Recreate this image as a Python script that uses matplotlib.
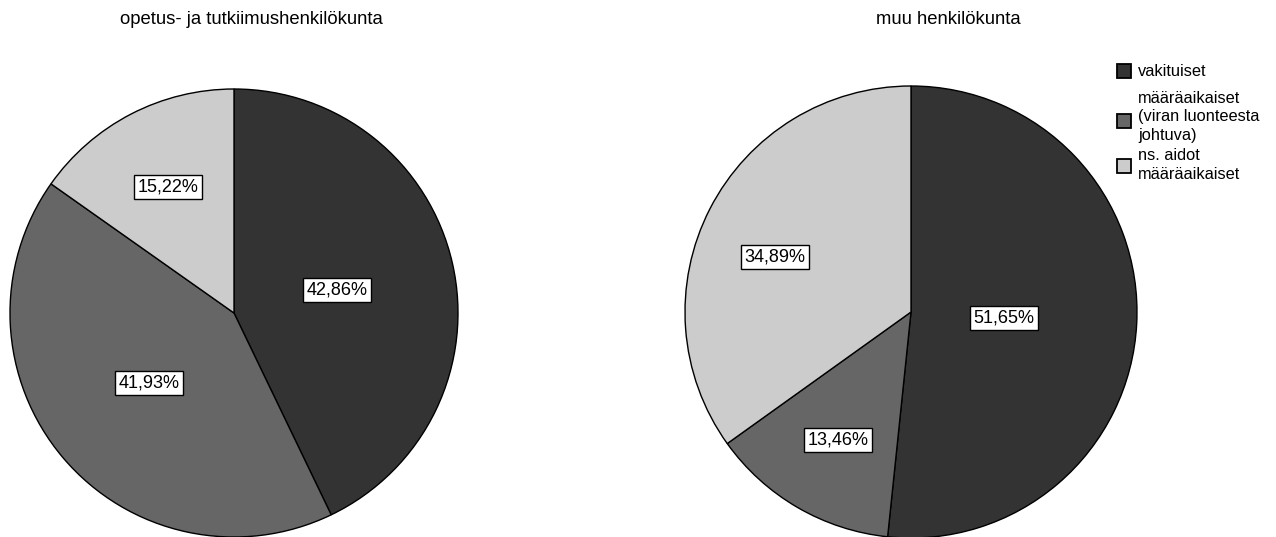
import matplotlib
matplotlib.use("Agg")
import matplotlib.pyplot as plt
from matplotlib.patches import Rectangle

plt.rcParams['font.family'] = ['Liberation Sans', 'DejaVu Sans']

categories = ["vakituiset", "määräaikaiset\n(viran luonteesta\njohtuva)", "ns. aidot\nmääräaikaiset"]
colors = ["#333333", "#666666", "#cccccc"]
left_title = "opetus- ja tutkiimushenkilökunta"
right_title = "muu henkilökunta"
left_values = [42.86, 41.93, 15.22]
right_values = [51.65, 13.46, 34.89]
# label positions (pixels, from top-left)
left_label_pos = [(337, 290), (149, 383), (168, 187)]
right_label_pos = [(1004, 318), (838, 440), (775, 257)]

W, H = 1276, 537
fig = plt.figure(figsize=(W / 100, H / 100), dpi=100)
ax = fig.add_axes([0, 0, 1, 1])

def fmt(v):
    return f"{v:.2f}".replace(".", ",") + "%"

def draw_pie(values, center, radius, label_pos):
    wedges, _ = ax.pie(values, colors=colors, startangle=90, counterclock=False,
                       center=center, radius=radius, frame=True,
                       wedgeprops=dict(edgecolor='black', linewidth=1.0))
    for v, (x, y) in zip(values, label_pos):
        ax.text(x, H - y, fmt(v), ha='center', va='center', fontsize=13,
                bbox=dict(boxstyle='square,pad=0.2', facecolor='white',
                          edgecolor='black', linewidth=1.0))
    return wedges

draw_pie(left_values, (234, H - 313), 224, left_label_pos)
draw_pie(right_values, (911, H - 312), 226, right_label_pos)
ax.set_xlim(0, W)
ax.set_ylim(0, H)
ax.set_aspect('equal')
ax.axis('off')

ax.text(251, H - 20, left_title, ha='center', va='center', fontsize=13.3)
ax.text(948, H - 20, right_title, ha='center', va='center', fontsize=13.3)

# legend (manual layout)
square_y = [71, 121, 166]
text_y = [71, 117, 165]
for col, lab, sy, ty in zip(colors, categories, square_y, text_y):
    ax.add_patch(Rectangle((1117, H - sy - 7), 14, 14, facecolor=col,
                           edgecolor='black', linewidth=1.3))
    ax.text(1138, H - ty, lab, ha='left', va='center', fontsize=11.8,
            linespacing=1.3)

fig.savefig("out.png", dpi=100)
